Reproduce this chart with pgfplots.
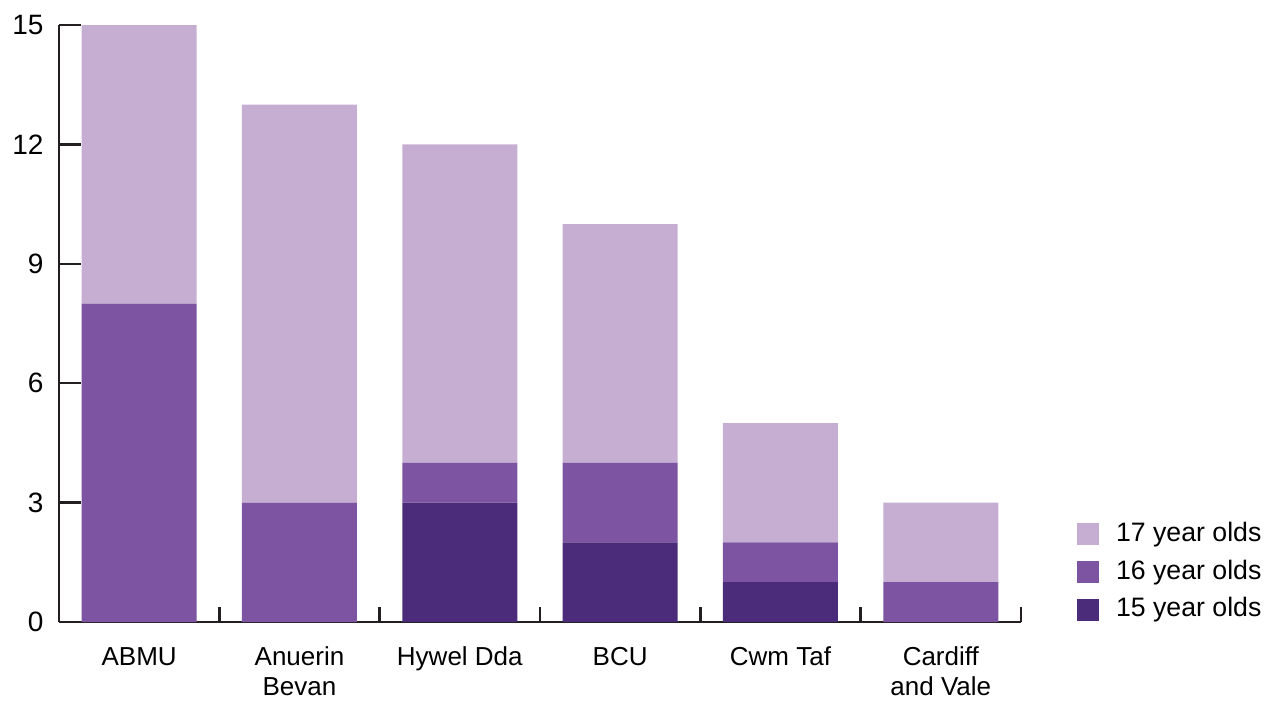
\documentclass[border=0pt]{standalone}
\usepackage{pgfplots}
\pgfplotsset{compat=1.18}
\usepackage{fontspec}
\setmainfont{Liberation Sans}
\definecolor{lightlilac}{HTML}{C6AED2}
\definecolor{midpurple}{HTML}{7C54A2}
\definecolor{darkpurple}{HTML}{4A2C7A}
\definecolor{axisgrey}{HTML}{231F20}
\begin{document}
\begin{tikzpicture}
  \path[use as bounding box] (-17.7pt,-23.4pt) rectangle (364.5pt,186.6pt);
  \begin{axis}[
      at={(0,0)}, anchor=south west,
      scale only axis,
      width=288.6pt, height=179.1pt,
      ybar stacked,
      bar width=34.5pt,
      xmin=-0.5, xmax=5.5,
      ymin=0, ymax=15,
      axis lines=left,
      axis line style={-, draw=axisgrey, line width=0.75pt},
      tick style={draw=axisgrey, line width=0.75pt},
      tick align=inside,
      xtick={0,...,5},
      xticklabels={ABMU,{Anuerin\\Bevan},Hywel Dda,BCU,Cwm Taf,{Cardiff\\and Vale}},
      major x tick style={draw=none},
      minor xtick={0.5,1.5,...,5.5},
      minor tick length=4.5pt,
      ytick={0,3,...,15},
      major tick length=6.6pt,
      /pgf/number format/assume math mode=true,
      yticklabel style={font=\fontsize{8.4}{10}\selectfont, xshift=-1.1pt},
      xticklabel style={font=\fontsize{7.8}{9}\selectfont, align=center, yshift=-4pt},
      reverse legend,
      legend cell align=left,
      legend style={draw=none, fill=none, at={(1.058,-0.012)}, anchor=south west,
        font=\fontsize{8}{9.6}\selectfont, inner sep=0pt, row sep=0pt,
        /tikz/every odd column/.append style={column sep=3pt}},
      legend image code/.code={\fill[#1, draw=none] (0pt,-3.3pt) rectangle (6.6pt,3.3pt);},
    ]
    \addplot[fill=darkpurple, draw=none] coordinates {(0,0) (1,0) (2,3) (3,2) (4,1) (5,0)};
    \addplot[fill=midpurple, draw=none] coordinates {(0,8) (1,3) (2,1) (3,2) (4,1) (5,1)};
    \addplot[fill=lightlilac, draw=none] coordinates {(0,7) (1,10) (2,8) (3,6) (4,3) (5,2)};
    \legend{15 year olds,16 year olds,17 year olds}
  \end{axis}
\end{tikzpicture}
\end{document}
